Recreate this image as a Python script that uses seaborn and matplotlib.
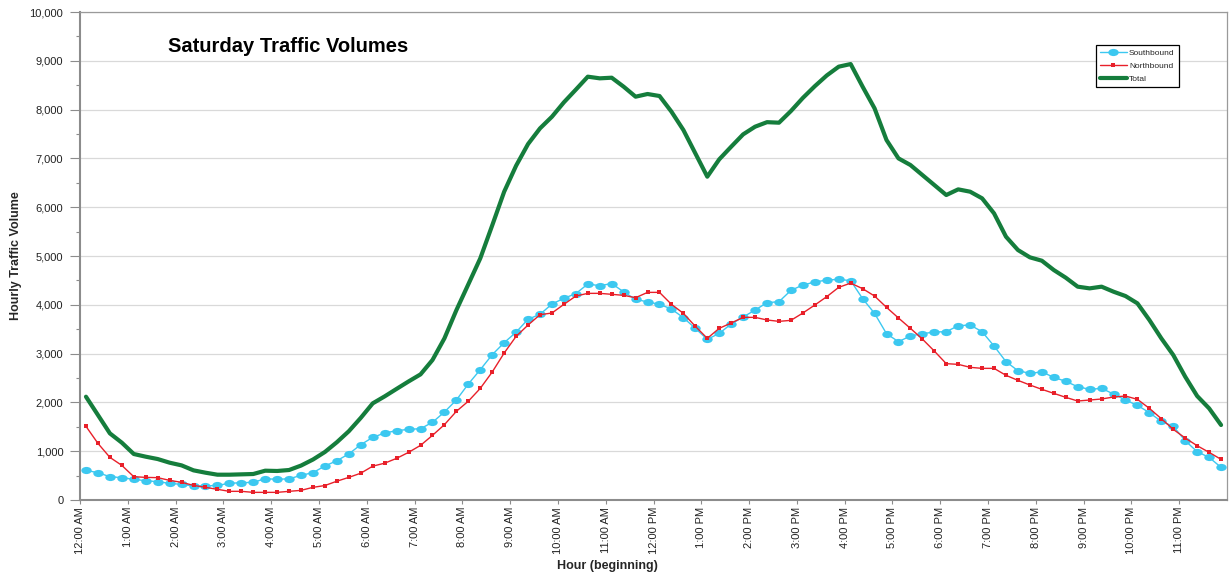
import numpy as np
import pandas as pd
import matplotlib
matplotlib.use("Agg")
import matplotlib.pyplot as plt
from matplotlib.path import Path
from matplotlib.ticker import MultipleLocator, FuncFormatter
import seaborn as sns

# hourly volumes for each 15-minute slot, 12:00 AM .. 11:45 PM
southbound = [608, 560, 478, 458, 424, 396, 376, 342, 321, 287, 287, 300,
              342, 355, 362, 437, 424, 435, 505, 562, 697, 806, 945, 1134,
              1284, 1373, 1421, 1448, 1462, 1592, 1803, 2050, 2377, 2671, 2978, 3224,
              3440, 3705, 3805, 4016, 4133, 4230, 4426, 4392, 4436, 4265, 4112, 4060,
              4010, 3914, 3736, 3518, 3292, 3415, 3607, 3750, 3893, 4044, 4064, 4296,
              4406, 4467, 4508, 4522, 4495, 4126, 3825, 3408, 3245, 3361, 3408, 3443,
              3449, 3572, 3586, 3449, 3156, 2835, 2650, 2596, 2625, 2514, 2432, 2322,
              2268, 2288, 2172, 2049, 1940, 1790, 1612, 1510, 1216, 990, 874, 669]
northbound = [1510, 1161, 874, 710, 478, 464, 458, 403, 362, 300, 260, 219,
              178, 178, 157, 157, 157, 178, 198, 260, 297, 386, 464, 550,
              694, 755, 854, 977, 1120, 1325, 1544, 1817, 2025, 2288, 2623, 3012,
              3354, 3586, 3798, 3832, 4010, 4180, 4235, 4235, 4215, 4194, 4146, 4255,
              4255, 4010, 3825, 3559, 3313, 3518, 3627, 3743, 3743, 3689, 3661, 3682,
              3832, 3996, 4167, 4358, 4445, 4331, 4180, 3948, 3730, 3518, 3299, 3053,
              2794, 2780, 2719, 2698, 2698, 2555, 2452, 2357, 2268, 2186, 2104, 2029,
              2049, 2070, 2111, 2131, 2063, 1878, 1667, 1448, 1270, 1113, 977, 833]
total = [2117, 1742, 1366, 1175, 943, 888, 840, 765, 710, 608, 560, 519,
         519, 526, 533, 601, 595, 615, 706, 830, 985, 1185, 1410, 1684,
         1981, 2124, 2278, 2430, 2575, 2869, 3313, 3890, 4420, 4952, 5628, 6318,
         6851, 7295, 7616, 7855, 8150, 8410, 8675, 8641, 8654, 8470, 8265, 8320,
         8279, 7958, 7582, 7104, 6626, 6981, 7240, 7493, 7650, 7743, 7732, 7971,
         8240, 8480, 8700, 8880, 8934, 8470, 8026, 7377, 7001, 6865, 6660, 6455,
         6250, 6366, 6318, 6182, 5874, 5396, 5123, 4973, 4904, 4713, 4556, 4372,
         4337, 4372, 4269, 4180, 4030, 3689, 3313, 2971, 2527, 2131, 1878, 1537]
hour_labels = ["12:00 AM", "1:00 AM", "2:00 AM", "3:00 AM", "4:00 AM", "5:00 AM",
               "6:00 AM", "7:00 AM", "8:00 AM", "9:00 AM", "10:00 AM", "11:00 AM",
               "12:00 PM", "1:00 PM", "2:00 PM", "3:00 PM", "4:00 PM", "5:00 PM",
               "6:00 PM", "7:00 PM", "8:00 PM", "9:00 PM", "10:00 PM", "11:00 PM"]

df = pd.DataFrame({"slot": np.arange(len(total)) + 0.5,
                   "Southbound": southbound,
                   "Northbound": northbound,
                   "Total": total})

sns.set_style("white")
plt.rcParams["font.family"] = ["Liberation Sans", "DejaVu Sans"]

fig = plt.figure(figsize=(12.29, 5.75), dpi=100)
ax = fig.add_axes([0.0651, 0.1304, 0.9333, 0.8487])

# stretched circle like the spreadsheet marker
circ = Path.unit_circle()
ellipse = Path(circ.vertices * [1.45, 1.0], circ.codes)

sns.lineplot(data=df, x="slot", y="Total", ax=ax, color="#157d3c", lw=3.0,
             label="Total", zorder=3)
sns.lineplot(data=df, x="slot", y="Southbound", ax=ax, color="#3cc8f0", lw=1.0,
             marker=ellipse, markersize=7.5, markeredgewidth=0, label="Southbound", zorder=4)
sns.lineplot(data=df, x="slot", y="Northbound", ax=ax, color="#e8202a", lw=1.0,
             marker="s", markersize=3, markeredgewidth=0, label="Northbound", zorder=5)

ax.set_xlim(0, 96)
ax.set_ylim(0, 10000)
ax.set_xticks(np.arange(0, 96, 4))
ax.set_xticklabels(hour_labels, rotation=90, fontsize=8, color="#222222")
ax.yaxis.set_major_locator(MultipleLocator(1000))
ax.yaxis.set_minor_locator(MultipleLocator(500))
ax.yaxis.set_major_formatter(FuncFormatter(lambda v, p: f"{int(v):,}"))
ax.tick_params(axis="y", which="major", length=7, width=0.8, color="#8c8c8c",
               labelsize=8, labelcolor="#222222", pad=5, left=True)
ax.tick_params(axis="y", which="minor", length=3, width=0.8, color="#8c8c8c", left=True)
ax.tick_params(axis="x", length=3, width=0.8, color="#8c8c8c", pad=2, bottom=True)

ax.grid(axis="y", which="major", color="#d9d9d9", lw=0.9)
ax.set_axisbelow(True)
for side in ["left", "bottom"]:
    ax.spines[side].set_color("#8c8c8c")
    ax.spines[side].set_linewidth(1.5)
for side in ["top", "right"]:
    ax.spines[side].set_color("#9a9a9a")
    ax.spines[side].set_linewidth(0.9)

ax.set_xlabel("Hour (beginning)", fontsize=9, fontweight="bold", labelpad=4)
ax.xaxis.set_label_coords(0.4595, -0.122)
ax.set_ylabel("Hourly Traffic Volume", fontsize=9, fontweight="bold")
ax.yaxis.set_label_coords(-0.051, 0.5)

ax.text(0.0767, 0.93, "Saturday Traffic Volumes", transform=ax.transAxes,
        fontsize=14.5, fontweight="bold", va="center", ha="left", color="black")

handles, labels = ax.get_legend_handles_labels()
order = [labels.index(n) for n in ["Southbound", "Northbound", "Total"]]
leg = ax.legend([handles[i] for i in order], [labels[i] for i in order],
                loc="upper right", bbox_to_anchor=(0.958, 0.932), fontsize=6,
                frameon=True, fancybox=False, edgecolor="black", framealpha=1,
                handlelength=3.2, handletextpad=0.3, borderpad=0.5, labelspacing=0.6,
                borderaxespad=0)
leg.get_frame().set_linewidth(0.9)

fig.savefig("out.png", dpi=100)
plt.close(fig)
